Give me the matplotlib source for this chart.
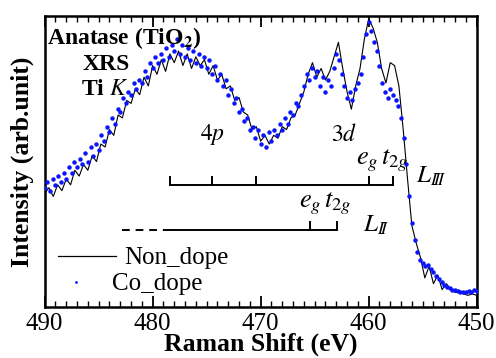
import numpy as np
import matplotlib
matplotlib.use("Agg")
import matplotlib.pyplot as plt
from matplotlib.lines import Line2D

plt.rcParams['font.family'] = ['Liberation Serif', 'DejaVu Serif']
plt.rcParams['mathtext.fontset'] = 'stix'

# ---------------- data ----------------
# Non_dope (black line), energy grid 490 -> 450 eV in 0.4 eV steps
e_non = np.round(np.arange(490.0, 449.99, -0.4), 2)
i_non = [
    0.39, 0.41, 0.38, 0.42, 0.40, 0.44, 0.42, 0.47, 0.45, 0.49,
    0.47, 0.52, 0.50, 0.56, 0.55, 0.61, 0.59, 0.66, 0.65, 0.71,
    0.70, 0.75, 0.73, 0.79, 0.76, 0.83, 0.80, 0.85, 0.81, 0.87,
    0.84, 0.88, 0.83, 0.87, 0.82, 0.86, 0.83, 0.85, 0.80, 0.83,
    0.78, 0.80, 0.75, 0.76, 0.71, 0.72, 0.67, 0.66, 0.61, 0.62,
    0.57, 0.59, 0.56, 0.59, 0.58, 0.62, 0.61, 0.65, 0.66, 0.70,
    0.74, 0.80, 0.84, 0.79, 0.82, 0.78, 0.81, 0.86, 0.91, 0.82,
    0.74, 0.68, 0.76, 0.82, 0.92, 0.99, 0.96, 0.91, 0.82, 0.77,
    0.84, 0.83, 0.76, 0.61, 0.44, 0.28, 0.22, 0.17, 0.10, 0.14,
    0.08, 0.11, 0.06, 0.08, 0.06, 0.05, 0.05, 0.045, 0.04, 0.045,
    0.04,
]

# Co_dope (blue dots), energy grid 490 -> 450 eV in 0.25 eV steps
e_co = np.round(np.arange(490.0, 449.99, -0.25), 2)
i_co = [
    0.41, 0.43, 0.40, 0.44, 0.42, 0.45, 0.43, 0.46,
    0.44, 0.48, 0.46, 0.50, 0.48, 0.51, 0.49, 0.53,
    0.50, 0.55, 0.52, 0.56, 0.54, 0.59, 0.57, 0.62,
    0.60, 0.65, 0.63, 0.68, 0.67, 0.72, 0.70, 0.74,
    0.73, 0.77, 0.75, 0.78, 0.77, 0.81, 0.79, 0.84,
    0.82, 0.86, 0.84, 0.87, 0.85, 0.89, 0.86, 0.90,
    0.88, 0.92, 0.87, 0.90, 0.86, 0.89, 0.85, 0.88,
    0.84, 0.87, 0.83, 0.86, 0.82, 0.85, 0.80, 0.83,
    0.78, 0.80, 0.76, 0.78, 0.73, 0.75, 0.70, 0.72,
    0.67, 0.68, 0.64, 0.65, 0.61, 0.62, 0.58, 0.61,
    0.56, 0.59, 0.55, 0.60, 0.57, 0.61, 0.59, 0.63,
    0.61, 0.65, 0.63, 0.67, 0.66, 0.70, 0.69, 0.73,
    0.76, 0.80, 0.78, 0.82, 0.79, 0.81, 0.76, 0.79,
    0.74, 0.78, 0.76, 0.82, 0.87, 0.85, 0.80, 0.76,
    0.72, 0.74, 0.71, 0.75, 0.77, 0.80, 0.86, 0.94,
    0.98, 0.95, 0.91, 0.88, 0.83, 0.77, 0.74, 0.72,
    0.75, 0.73, 0.71, 0.69, 0.65, 0.58, 0.49, 0.38,
    0.29, 0.23, 0.19, 0.16, 0.15, 0.14, 0.145, 0.13,
    0.12, 0.105, 0.095, 0.085, 0.075, 0.07, 0.065, 0.06,
    0.058, 0.055, 0.05, 0.052, 0.05, 0.055, 0.052, 0.058,
    0.055,
]

# level markers (eV)
l3_ticks = [478.4, 474.5, 470.4, 460.0, 457.7]
l3_level = 0.42
l2_ticks = [465.4, 462.9]
l2_start_solid = 478.4
l2_start_dash = 482.8
l2_level = 0.265
tick_h = 0.028

xlim = (490, 450)
xticks = [490, 480, 470, 460, 450]

# ---------------- figure ----------------
fig = plt.figure(figsize=(4.96, 3.58), dpi=100)
ax = fig.add_axes([0.090, 0.1425, 0.871, 0.8125])

ax.plot(e_non, i_non, color='black', lw=0.8, zorder=2)
ax.plot(e_co, i_co, ls='none', marker='o', ms=3.2, mew=0,
        color='#0a14ff', zorder=3)

# L_III bar
ax.plot([l3_ticks[0], l3_ticks[-1]], [l3_level, l3_level], color='black', lw=1.4)
for t in l3_ticks:
    ax.plot([t, t], [l3_level, l3_level + tick_h], color='black', lw=1.4)
# L_II bar
ax.plot([l2_start_dash, l2_start_solid], [l2_level, l2_level], color='black',
        lw=1.4, dashes=(4, 3))
ax.plot([l2_start_solid, l2_ticks[-1]], [l2_level, l2_level], color='black', lw=1.4)
for t in l2_ticks:
    ax.plot([t, t], [l2_level, l2_level + tick_h], color='black', lw=1.4)

ax.set_xlim(*xlim)
ax.set_ylim(0, 1)
ax.set_xticks(xticks)
ax.set_xticklabels([str(v) for v in xticks])
ax.xaxis.set_minor_locator(matplotlib.ticker.MultipleLocator(1))
ax.set_yticks([])
ax.tick_params(axis='x', which='major', direction='in', length=8, width=1.3,
               top=True, labelsize=18, pad=4)
ax.tick_params(axis='x', which='minor', direction='in', length=4, width=1.0,
               top=True)
for s in ax.spines.values():
    s.set_linewidth(1.8)

ax.set_xlabel('Raman Shift (eV)', fontsize=18.5, fontweight='bold')
ax.xaxis.label.set_va('baseline')
ax.xaxis.set_label_coords(0.5, -0.150)
ax.set_ylabel('Intensity (arb.unit)', fontsize=18.5, fontweight='bold')
ax.yaxis.set_label_coords(-0.024, 0.50)

# annotations
ax.text(0.005, 0.905, r'Anatase (TiO$_\mathbf{2}$)', transform=ax.transAxes,
        fontsize=17, fontweight='bold', ha='left', va='baseline')
ax.text(0.143, 0.815, 'XRS', transform=ax.transAxes,
        fontsize=17, fontweight='bold', ha='center', va='baseline')
ax.text(0.140, 0.730, r'Ti $K$', transform=ax.transAxes,
        fontsize=17, fontweight='bold', ha='center', va='baseline')

ax.text(474.5, 0.574, r'$4p$', fontsize=17, ha='center', va='baseline')
ax.text(462.3, 0.57, r'$3d$', fontsize=17, ha='center', va='baseline')
ax.text(458.75, 0.49, r'$e_g\,t_{2g}$', fontsize=19, ha='center', va='baseline')
ax.text(454.2, 0.426, r'$L_{I\!I\!I}$', fontsize=18, ha='center', va='baseline')
ax.text(464.0, 0.342, r'$e_g\,t_{2g}$', fontsize=19, ha='center', va='baseline')
ax.text(459.3, 0.258, r'$L_{I\!I}$', fontsize=18, ha='center', va='baseline')

# legend
h1 = Line2D([], [], color='black', lw=0.9)
h2 = Line2D([], [], ls='none', marker='o', ms=2.0, mew=0, color='#0a14ff')
leg1 = ax.legend([h1], ['Non_dope'], loc='center left', frameon=False,
                 bbox_to_anchor=(58 / 496, 1 - 258 / 358), bbox_transform=fig.transFigure,
                 fontsize=18, handlelength=2.3, handletextpad=0.36,
                 borderpad=0, borderaxespad=0)
ax.add_artist(leg1)
ax.legend([h2], ['Co_dope'], loc='center left', frameon=False,
          bbox_to_anchor=(58 / 496, 1 - 284 / 358), bbox_transform=fig.transFigure,
          fontsize=18, handlelength=1.44, handletextpad=0.72,
          borderpad=0, borderaxespad=0)

fig.savefig('out.png', dpi=100)
